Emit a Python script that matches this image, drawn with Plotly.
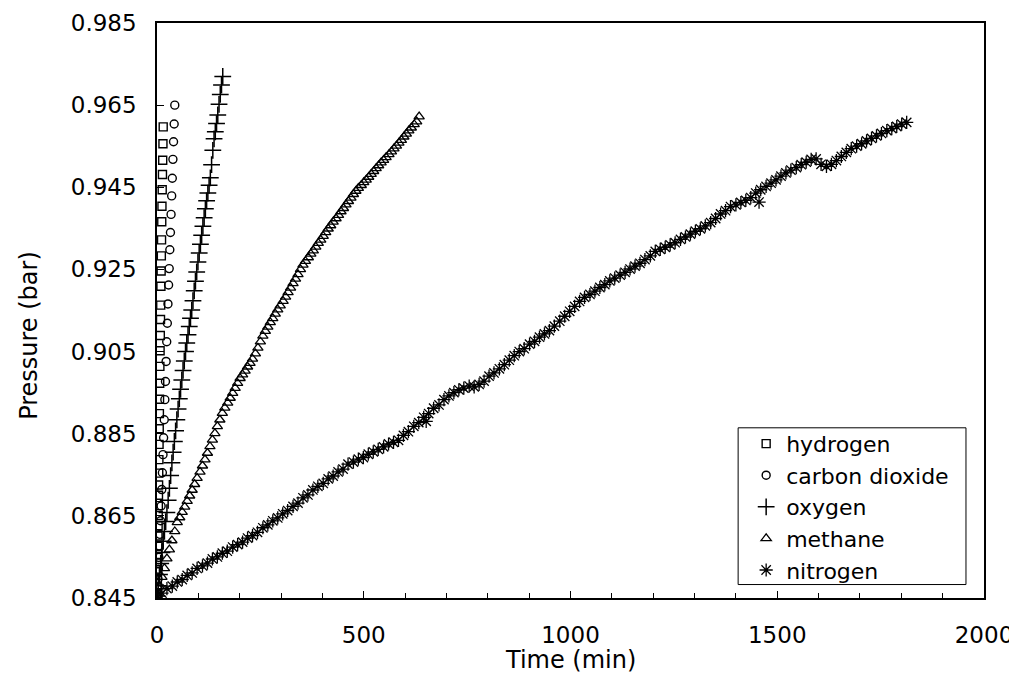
import plotly.graph_objects as go

# ---------------- data ----------------
hydrogen_t = [0.3, 0.6, 0.9, 1.2, 1.5, 1.8, 2.1, 2.4, 2.7, 3.0, 3.3, 3.6, 3.9, 4.2, 4.6, 5.0, 5.4, 5.8,
              6.2, 6.6, 7.0, 7.5, 8.0, 8.5, 9.0, 9.5, 10.0, 10.5, 11.0, 11.5, 12.0, 12.6, 13.2, 13.8, 14.4, 15.0]
hydrogen_p = [0.8461, 0.8477, 0.8494, 0.8514, 0.8535, 0.8556, 0.8576, 0.8601, 0.8626, 0.8651, 0.8675, 0.8700,
              0.8725, 0.8754, 0.8787, 0.8824, 0.8862, 0.8899, 0.8934, 0.8973, 0.9014, 0.9052, 0.9089, 0.9128,
              0.9163, 0.9209, 0.9246, 0.9283, 0.9322, 0.9366, 0.9404, 0.9444, 0.9481, 0.9516, 0.9556, 0.9597]

co2_t = [0.5, 1.5, 2.5, 3.5, 4.5, 5.5, 7, 8.5, 10, 11.5, 13, 14.5, 16, 17.5, 19, 20.5, 22, 23.5, 25, 26.5,
         28, 29.5, 31, 32.5, 34, 35.5, 37, 38.5, 40, 41.5, 43]
co2_p = [0.8456, 0.8472, 0.8496, 0.8520, 0.8549, 0.8577, 0.8605, 0.8638, 0.8674, 0.8714, 0.8755, 0.8799,
         0.8840, 0.8884, 0.8933, 0.8977, 0.9026, 0.9074, 0.9119, 0.9166, 0.9212, 0.9252, 0.9298, 0.9340,
         0.9384, 0.9429, 0.9472, 0.9518, 0.9561, 0.9604, 0.9650]

oxygen_t = [0, 3, 6, 9, 12, 15, 18, 21, 24, 27, 30, 33, 36, 39, 42, 45, 48, 51, 54, 57, 60, 63, 66, 69, 72,
            75, 78, 81, 84, 87, 90, 93, 96, 99, 102, 105, 108, 111, 114, 117, 120, 123, 126, 129, 132, 135,
            138, 141, 144, 147, 150, 153, 156, 159]
oxygen_p = [0.8455, 0.8480, 0.8507, 0.8534, 0.8561, 0.8588, 0.8612, 0.8636, 0.8658, 0.8688, 0.8717, 0.8748,
            0.8779, 0.8805, 0.8831, 0.8857, 0.8884, 0.8910, 0.8935, 0.8958, 0.8981, 0.9004, 0.9027, 0.9050,
            0.9071, 0.9091, 0.9111, 0.9131, 0.9151, 0.9174, 0.9198, 0.9221, 0.9244, 0.9268, 0.9290, 0.9311,
            0.9333, 0.9355, 0.9376, 0.9398, 0.9417, 0.9436, 0.9455, 0.9473, 0.9505, 0.9540, 0.9568, 0.9585,
            0.9605, 0.9626, 0.9652, 0.9676, 0.9699, 0.9720]

methane_t = [0, 6, 12, 18, 24, 30, 36, 43, 49, 55, 61, 67, 73, 79, 85, 91, 97, 104, 110, 116,
             122, 128, 134, 140, 146, 152, 158, 164, 171, 177, 183, 189, 195, 201, 207, 213, 219, 225, 231, 238,
             244, 250, 256, 262, 268, 274, 280, 286, 292, 298, 305, 311, 317, 323, 329, 335, 341, 347, 353, 359,
             366, 372, 378, 384, 390, 396, 402, 408, 414, 420, 426, 433, 439, 445, 451, 457, 463, 469, 475, 481,
             487, 494, 500, 506, 512, 518, 524, 530, 536, 542, 548, 554, 561, 567, 573, 579, 585, 591, 597, 603,
             609, 615, 622, 628, 634]
methane_p = [0.8456, 0.8478, 0.8501, 0.8522, 0.8546, 0.8568, 0.8590, 0.8612, 0.8634, 0.8646, 0.8659, 0.8672,
             0.8686, 0.8699, 0.8713, 0.8727, 0.8742, 0.8757, 0.8772, 0.8787, 0.8803, 0.8819, 0.8835, 0.8851,
             0.8868, 0.8884, 0.8900, 0.8913, 0.8925, 0.8937, 0.8949, 0.8961, 0.8973, 0.8985, 0.8994, 0.9003,
             0.9013, 0.9022, 0.9032, 0.9045, 0.9059, 0.9074, 0.9088, 0.9100, 0.9110, 0.9121, 0.9131, 0.9142,
             0.9152, 0.9162, 0.9173, 0.9183, 0.9194, 0.9205, 0.9216, 0.9227, 0.9238, 0.9250, 0.9261, 0.9270,
             0.9279, 0.9288, 0.9296, 0.9305, 0.9314, 0.9322, 0.9331, 0.9340, 0.9349, 0.9357, 0.9366, 0.9374,
             0.9382, 0.9391, 0.9399, 0.9408, 0.9416, 0.9424, 0.9433, 0.9441, 0.9448, 0.9455, 0.9462, 0.9468,
             0.9475, 0.9482, 0.9489, 0.9496, 0.9503, 0.9510, 0.9516, 0.9523, 0.9530, 0.9537, 0.9544, 0.9551,
             0.9558, 0.9565, 0.9573, 0.9580, 0.9588, 0.9595, 0.9603, 0.9610, 0.9622]

nitrogen_t = [0, 12, 24, 37, 49, 61, 73, 85, 97, 110, 122, 134, 146, 158, 170, 183, 195, 207, 219, 231,
              243, 256, 268, 280, 292, 304, 316, 329, 341, 353, 365, 377, 389, 402, 414, 426, 438, 450, 462, 475,
              487, 499, 511, 523, 535, 548, 560, 572, 584, 596, 608, 621, 633, 645, 651, 657, 669, 682, 694, 706,
              718, 730, 742, 755, 767, 779, 791, 803, 815, 828, 840, 852, 864, 876, 888, 901, 913, 925, 937, 949,
              961, 974, 986, 998, 1010, 1022, 1034, 1047, 1059, 1071, 1083, 1095, 1107, 1120, 1132, 1144, 1156,
              1168, 1180, 1193, 1205, 1217, 1229, 1241, 1253, 1266, 1278, 1290, 1302, 1314, 1326, 1339, 1351,
              1363, 1375, 1387, 1400, 1412, 1424, 1436, 1448, 1456, 1460, 1473, 1485, 1497, 1509, 1521, 1533,
              1546, 1558, 1570, 1582, 1594, 1606, 1619, 1631, 1643, 1655, 1667, 1679, 1692, 1704, 1716, 1728,
              1740, 1752, 1765, 1777, 1789, 1801, 1813]
nitrogen_p = [0.8455, 0.8462, 0.8473, 0.8479, 0.8489, 0.8495, 0.8505, 0.8511, 0.8522, 0.8528, 0.8535, 0.8545,
              0.8550, 0.8559, 0.8564, 0.8574, 0.8580, 0.8586, 0.8596, 0.8602, 0.8610, 0.8621, 0.8628, 0.8638,
              0.8645, 0.8655, 0.8663, 0.8673, 0.8681, 0.8694, 0.8701, 0.8713, 0.8722, 0.8729, 0.8740, 0.8747,
              0.8757, 0.8764, 0.8776, 0.8781, 0.8788, 0.8792, 0.8800, 0.8806, 0.8812, 0.8818, 0.8825, 0.8829,
              0.8834, 0.8846, 0.8855, 0.8868, 0.8877, 0.8890, 0.8880, 0.8899, 0.8912, 0.8920, 0.8933, 0.8942,
              0.8950, 0.8957, 0.8961, 0.8966, 0.8964, 0.8970, 0.8978, 0.8990, 0.8998, 0.9008, 0.9018, 0.9029,
              0.9040, 0.9050, 0.9057, 0.9068, 0.9075, 0.9085, 0.9093, 0.9101, 0.9112, 0.9124, 0.9136, 0.9148,
              0.9160, 0.9172, 0.9182, 0.9189, 0.9197, 0.9206, 0.9213, 0.9222, 0.9229, 0.9236, 0.9243, 0.9251,
              0.9258, 0.9265, 0.9274, 0.9283, 0.9294, 0.9299, 0.9304, 0.9310, 0.9315, 0.9323, 0.9329, 0.9336,
              0.9343, 0.9349, 0.9356, 0.9364, 0.9374, 0.9385, 0.9393, 0.9403, 0.9407, 0.9413, 0.9418, 0.9425,
              0.9436, 0.9414, 0.9444, 0.9452, 0.9460, 0.9468, 0.9477, 0.9485, 0.9492, 0.9498, 0.9505, 0.9511,
              0.9518, 0.9519, 0.9506, 0.9501, 0.9506, 0.9515, 0.9525, 0.9535, 0.9544, 0.9550, 0.9556, 0.9563,
              0.9569, 0.9575, 0.9581, 0.9588, 0.9593, 0.9598, 0.9604, 0.9608, 0.9612]

series_names = ["hydrogen", "carbon dioxide", "oxygen", "methane", "nitrogen"]
x_tick_vals = [0, 500, 1000, 1500, 2000]
y_tick_vals = [0.845, 0.865, 0.885, 0.905, 0.925, 0.945, 0.965, 0.985]
y_tick_text = ["0.845", "0.865", "0.885", "0.905", "0.925", "0.945", "0.965", "0.985"]

# ---------------- figure ----------------
FONT = "DejaVu Sans"
series = [
    (hydrogen_t, hydrogen_p, "square-open", 8, 1.4),
    (co2_t, co2_p, "circle-open", 8, 1.4),
    (oxygen_t, oxygen_p, "cross-thin-open", 12, 1.5),
    (methane_t, methane_p, "triangle-up-open", 9, 1.3),
    (nitrogen_t, nitrogen_p, "asterisk-open", 11, 1.3),
]

fig = go.Figure()
for name, (tx, py, sym, sz, lw) in zip(series_names, series):
    fig.add_trace(go.Scatter(
        x=tx, y=py, mode="markers", name=name, legendgroup=name,
        marker=dict(symbol=sym, size=sz, color="black",
                    line=dict(color="black", width=lw)),
    ))

axis_common = dict(
    showgrid=False, zeroline=False, showline=True, linecolor="black", linewidth=1.5,
    mirror=True, ticks="inside", tickcolor="black",
    tickfont=dict(family=FONT, size=23, color="black"),
)

fig.update_xaxes(range=[0, 2000], tickvals=x_tick_vals, ticklen=7, tickwidth=1,
                 minor=dict(dtick=100, ticks="inside", ticklen=5, tickcolor="black", tickwidth=1),
                 ticklabelstandoff=16, **axis_common)
fig.update_yaxes(range=[0.845, 0.985], tickvals=y_tick_vals, ticktext=y_tick_text, ticklen=7,
                 tickwidth=1, ticklabelstandoff=14, **axis_common)

# page body has an 8px default margin: the figure is offset by (8, 8) in the window
fig.update_layout(
    width=1009, height=685,
    margin=dict(l=148.5, r=33, t=14.5, b=94.5, autoexpand=False),
    paper_bgcolor="white", plot_bgcolor="white",
    font=dict(family=FONT, color="black"),
    showlegend=True,
    legend=dict(
        x=0.7124, y=0.3047, xanchor="left", yanchor="top",
        bgcolor="rgba(0,0,0,0)", borderwidth=0,
        font=dict(family=FONT, size=22, color="black"),
        traceorder="grouped", tracegroupgap=0,
        itemwidth=30,
    ),
    shapes=[
        dict(type="rect", xref="paper", yref="paper", x0=0.7027, x1=0.9782, y0=0.0234, y1=0.296,
             line=dict(color="black", width=1), fillcolor="white", layer="above"),
    ],
    annotations=[
        dict(text="Time (min)", xref="paper", yref="paper", x=0.5, y=-0.108,
             xanchor="center", yanchor="middle", showarrow=False,
             font=dict(family=FONT, size=24, color="black")),
        dict(text="Pressure (bar)", xref="paper", yref="paper", x=-0.154, y=0.457,
             xanchor="center", yanchor="middle", showarrow=False, textangle=-90,
             font=dict(family=FONT, size=24, color="black")),
    ],
)

fig.write_html("out.html")
